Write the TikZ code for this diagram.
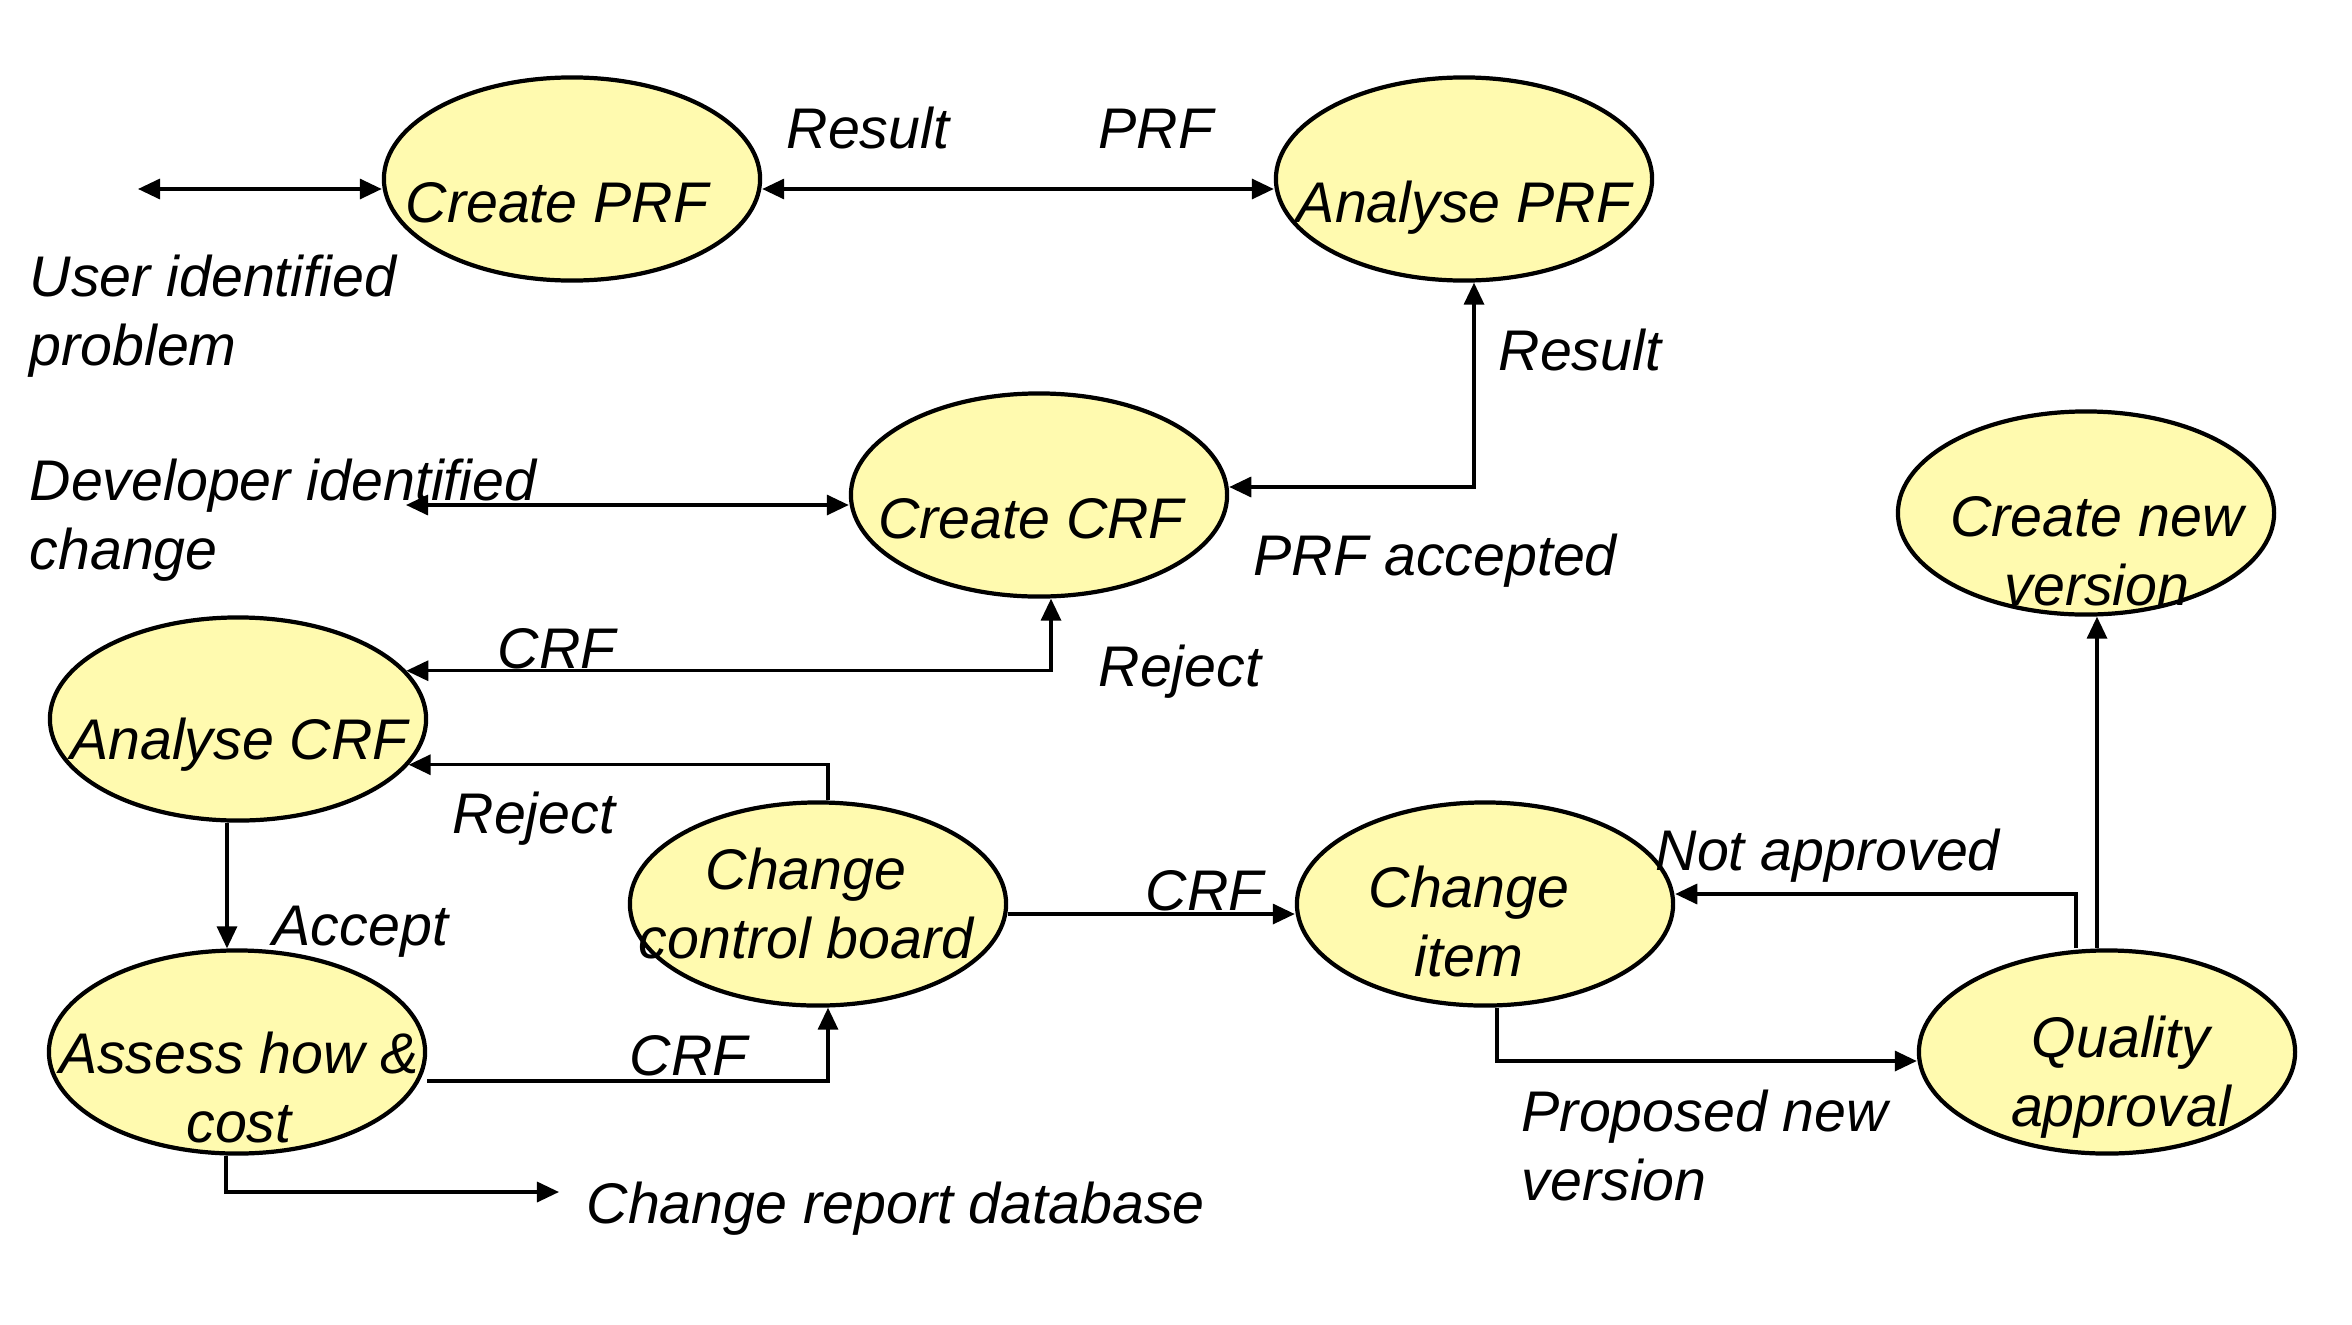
\documentclass[tikz,border=0pt]{standalone}
\usepackage{fontspec}
\setmainfont{Liberation Sans}
\usetikzlibrary{shapes.geometric,arrows.meta}
\definecolor{procfill}{RGB}{255,250,175}

\begin{document}
\begin{tikzpicture}[x=0.01cm, y=-0.01cm,
    >={Triangle[length=2.2mm,width=2mm]},
    proc/.style={ellipse, draw, line width=1.2pt, fill=procfill,
        minimum width=3.76cm, minimum height=2.03cm, inner sep=0pt},
    txt/.style={font=\fontsize{16.3}{19.6}\selectfont\itshape,
        inner sep=0pt, align=center, anchor=base},
    lbl/.style={font=\fontsize{16.3}{19.6}\selectfont\itshape,
        inner sep=0pt, align=left, anchor=base west},
    flow/.style={line width=0.95pt}]
    \useasboundingbox (0,0) rectangle (2352,1324);

    \node[proc] (cprf) at (572,179) {};
    \node[proc] (aprf) at (1464,179) {};
    \node[proc] (ccrf) at (1039,495) {};
    \node[proc] (cnv) at (2086,513) {};
    \node[proc] (acrf) at (238,719) {};
    \node[proc] (ccb) at (818,904) {};
    \node[proc] (ci) at (1485,904) {};
    \node[proc] (ach) at (237,1052) {};
    \node[proc] (qa) at (2107,1052) {};

    \node[txt] (cprf-t) at (557,222) {Create PRF};
    \node[txt] (aprf-t) at (1464,222) {Analyse PRF};
    \node[txt] (ccrf-t) at (1031,538) {Create CRF};
    \node[txt] (cnv-t) at (2097,605) {Create new\\version};
    \node[txt] (acrf-t) at (239,759) {Analyse CRF};
    \node[txt] (ccb-t) at (806,958) {Change\\control board};
    \node[txt] (ci-t) at (1469,976) {Change\\item};
    \node[txt] (ach-t) at (239,1142) {Assess how \&\\cost};
    \node[txt] (qa-t) at (2121,1126) {Quality\\approval};

    \node[lbl] (res1) at (786,148) {Result};
    \node[lbl] (prf) at (1098,148) {PRF};
    \node[lbl] (user) at (29,365) {User identified\\problem};
    \node[lbl] (dev) at (29,569) {Developer identified\\change};
    \node[lbl] (res2) at (1498,370) {Result};
    \node[lbl] (acc) at (1253,575) {PRF accepted};
    \node[lbl] (crf1) at (497,668) {CRF};
    \node[lbl] (rej1) at (1098,686) {Reject};
    \node[lbl] (rej2) at (452,833) {Reject};
    \node[lbl] (acpt) at (272,945) {Accept};
    \node[lbl] (crf2) at (1145,910) {CRF};
    \node[lbl] (notap) at (1655,870) {Not approved};
    \node[lbl] (crf3) at (629,1075) {CRF};
    \node[lbl] (pnv) at (1521,1200) {Proposed new\\version};
    \node[lbl] (crd) at (586,1223) {Change report database};

    \coordinate (usr) at (138,189);
    \coordinate (dvl) at (406,505);
    \coordinate (db) at (559,1192);

    \draw[flow, <->] (usr) -- (usr -| cprf.west);
    \draw[flow, <->] (cprf.east |- usr) -- (aprf.west |- usr);
    \draw[flow, <->] (dvl) -- (dvl -| ccrf.west);
    \draw[flow, <->] ([yshift=0.08cm]ccrf.east) -| ([xshift=0.1cm]aprf.south);
    \draw[flow, <->] ([xshift=0.12cm]ccrf.south) |- (acrf.16);
    \draw[flow, ->] ([xshift=0.1cm]ccb.north) |- (acrf.-15);
    \draw[flow, ->] ([xshift=-0.11cm]acrf.south) -- ([xshift=-0.11cm]acrf.south |- ach.north);
    \draw[flow, ->] ([yshift=-0.29cm]ach.east) -| ([xshift=0.1cm]ccb.south);
    \draw[flow, ->] ([xshift=-0.11cm]ach.south) |- (db);
    \draw[flow, ->] ([yshift=-0.1cm]ccb.east) -- ([yshift=-0.1cm]ci.west);
    \draw[flow, ->] ([xshift=0.12cm]ci.south) |- ([yshift=-0.09cm]qa.west);
    \draw[flow, ->] ([xshift=-0.31cm]qa.north) |- ([yshift=0.1cm]ci.east);
    \draw[flow, ->] ([xshift=-0.1cm]qa.north) -- ([xshift=-0.1cm]qa.north |- cnv.south);
\end{tikzpicture}
\end{document}
